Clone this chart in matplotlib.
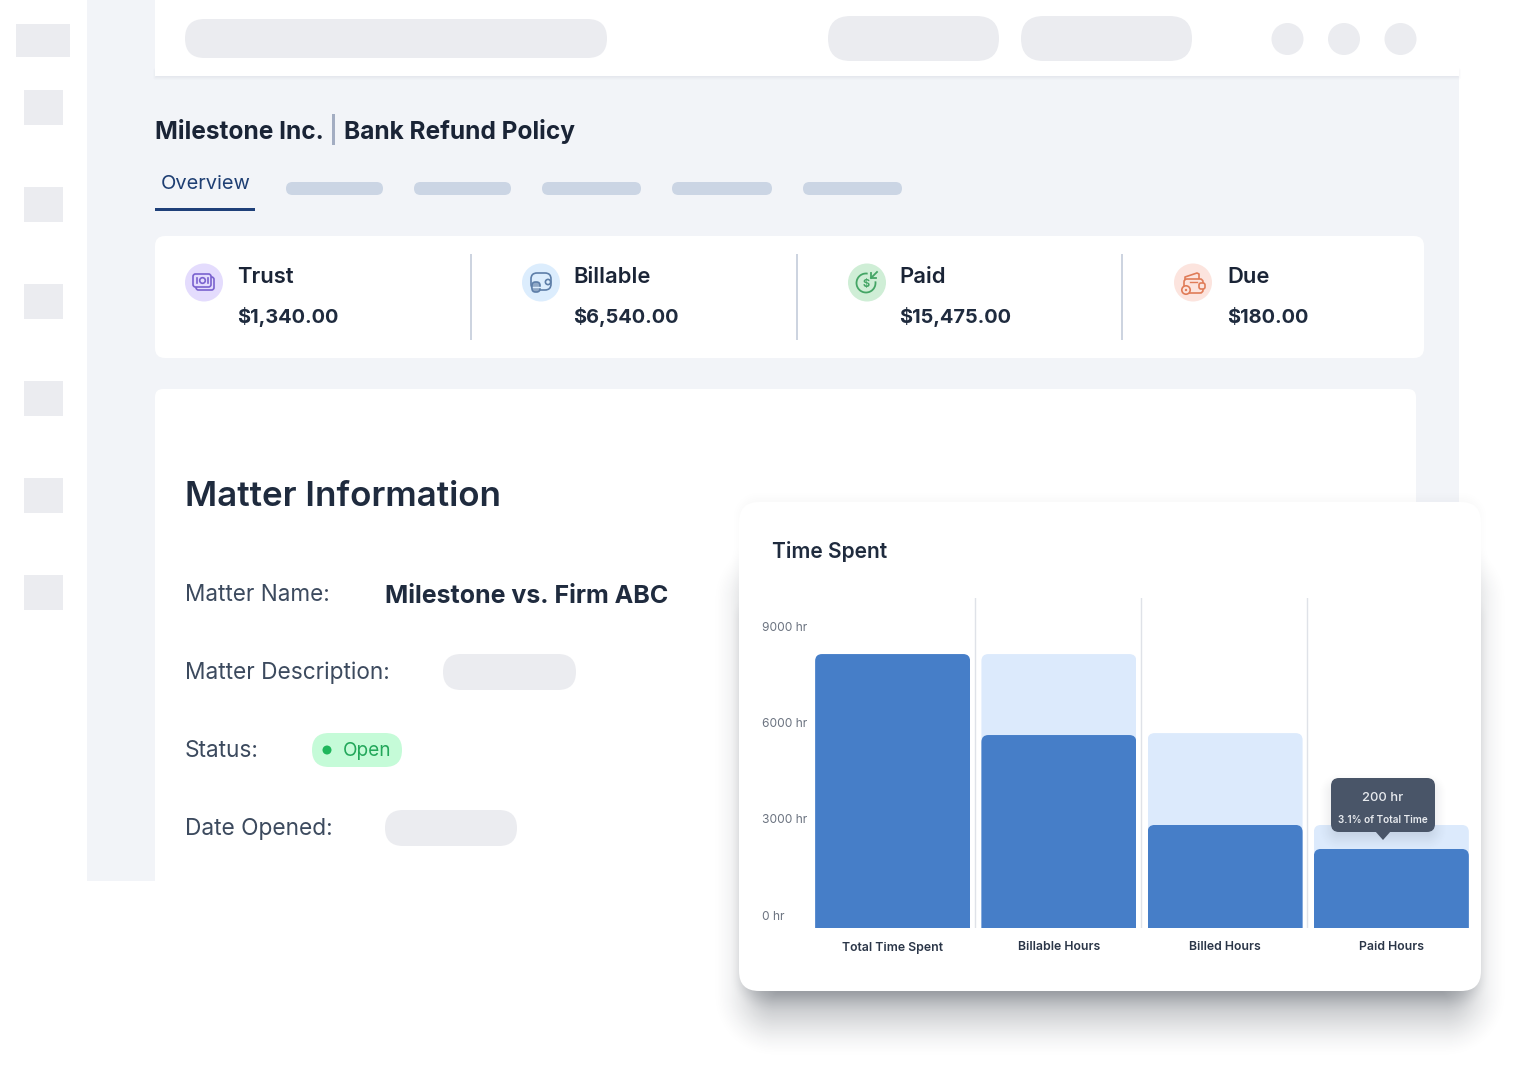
import numpy as np
import matplotlib
matplotlib.use("Agg")
import matplotlib.pyplot as plt
from matplotlib.patches import Arc, Circle, Ellipse, FancyBboxPatch, Polygon, Rectangle
from matplotlib.transforms import IdentityTransform, ScaledTranslation

plt.rcParams["font.family"] = ["Inter", "DejaVu Sans"]

WIDTH, HEIGHT = 1518, 1080
DPI = 100

# chart values
categories = ["Total Time Spent", "Billable Hours", "Billed Hours", "Paid Hours"]
upper_hours = [8560, 8560, 6090, 3220]
lower_hours = [8560, 6030, 3220, 2470]
y_ticks = [0, 3000, 6000, 9000]
y_tick_labels = ["0 hr", "3000 hr", "6000 hr", "9000 hr"]

# page text
stat_names = ["Trust", "Billable", "Paid", "Due"]
stat_values = ["$1,340.00", "$6,540.00", "$15,475.00", "$180.00"]

GREY = "#ebecf0"
PANEL = "#f2f4f8"
DARK = "#1a2436"
BODY = "#3c4a5e"
BLUE = "#467ec8"
LIGHT_BLUE = "#dceafc"


def px(size):
    return size * 72 / DPI


def box(ax, x0, y0, x1, y1, color, r=0.0, zorder=2):
    if r == 0:
        patch = Rectangle((x0, y0), x1 - x0, y1 - y0, fc=color, lw=0, zorder=zorder)
    else:
        patch = FancyBboxPatch(
            (x0, y0), x1 - x0, y1 - y0,
            boxstyle=f"round,pad=0,rounding_size={r}",
            fc=color, lw=0, zorder=zorder,
        )
    ax.add_patch(patch)
    return patch


def pill(ax, x0, y0, x1, y1, color, zorder=3):
    return box(ax, x0, y0, x1, y1, color, r=(y1 - y0) / 2, zorder=zorder)


def label(ax, x, y, text, size, color=BODY, weight="normal", ha="left", zorder=5):
    # y is the middle of the capitals, so descenders don't move the line
    ax.text(x, y + size * 0.36, text, fontsize=px(size), color=color, fontweight=weight,
            ha=ha, va="baseline", zorder=zorder)


def shadow_layer(x0, y0, x1, y1, blur, strength, radius=20):
    xx, yy = np.meshgrid(np.arange(WIDTH) + 0.5, np.arange(HEIGHT) + 0.5)
    cx, cy = (x0 + x1) / 2, (y0 + y1) / 2
    qx = np.abs(xx - cx) - (x1 - x0) / 2 + radius
    qy = np.abs(yy - cy) - (y1 - y0) / 2 + radius
    dist = np.hypot(np.maximum(qx, 0), np.maximum(qy, 0)) + np.minimum(np.maximum(qx, qy), 0) - radius
    t = np.clip((dist + blur) / (2 * blur), 0, 1)
    return strength * (1 - t * t * (3 - 2 * t))


def draw_shadow(ax, layers, color, zorder):
    alpha = np.zeros((HEIGHT, WIDTH))
    for layer in layers:
        alpha = 1 - (1 - alpha) * (1 - shadow_layer(*layer))
    rgba = np.zeros((HEIGHT, WIDTH, 4))
    rgba[..., :3] = matplotlib.colors.to_rgb(color)
    rgba[..., 3] = alpha
    ax.imshow(rgba, extent=(0, WIDTH, HEIGHT, 0), aspect="auto", zorder=zorder, interpolation="nearest")


def outline(ax, x0, y0, x1, y1, color, r=2.5, lw=1.2, fc="none", zorder=6):
    ax.add_patch(FancyBboxPatch(
        (x0, y0), x1 - x0, y1 - y0,
        boxstyle=f"round,pad=0,rounding_size={r}",
        fc=fc, ec=color, lw=lw, zorder=zorder,
    ))


def icon_trust(ax):
    c = "#7a62cf"
    outline(ax, 196, 277, 214, 290, c)
    outline(ax, 193, 274, 211, 287, c, fc="#e4dcfd", zorder=7)
    ax.add_patch(Circle((202.5, 280.5), 2.8, fc="none", ec=c, lw=1.2, zorder=8))
    ax.plot([197, 197], [278, 283], color=c, lw=1.2, zorder=8)
    ax.plot([208, 208], [278, 283], color=c, lw=1.2, zorder=8)


def icon_billable(ax):
    c = "#5d7ea8"
    outline(ax, 531, 273, 551, 290, c, r=6)
    ax.add_patch(Circle((548, 282), 2.6, fc="#dcedfd", ec=c, lw=1.2, zorder=7))
    outline(ax, 532, 282, 540, 292, c, r=3.5, fc="#8fa8c6", zorder=8)
    ax.plot([532.5, 539.5], [287, 287], color="#dcedfd", lw=1, zorder=9)


def icon_paid(ax):
    c = "#44a565"
    ax.add_patch(Arc((866, 283), 19, 19, theta1=-10, theta2=280, ec=c, lw=1.3, zorder=6))
    ax.text(866, 284, "$", fontsize=px(11), color=c, fontweight="bold", ha="center", va="center", zorder=7)
    ax.plot([877, 871], [272, 278], color=c, lw=1.3, zorder=7)
    ax.plot([871, 871, 876], [273, 278, 278], color=c, lw=1.3, zorder=7)


def icon_due(ax):
    c = "#e07c58"
    ax.plot([1185, 1185, 1197, 1199, 1199], [280, 277, 273, 274, 279], color=c, lw=1.2, zorder=6)
    outline(ax, 1184, 279, 1203, 293, c, r=3, fc="#fce4de", zorder=7)
    outline(ax, 1199, 283, 1205, 289, c, r=2, fc="#fce4de", zorder=8)
    ax.add_patch(Circle((1186, 290), 4.2, fc="#fce4de", ec=c, lw=1.2, zorder=9))
    ax.add_patch(Circle((1186, 290), 1.2, fc=c, lw=0, zorder=10))
    ax.plot([1190, 1197], [281.5, 281.5], color=c, lw=1, zorder=8)


def draw_page(ax):
    # panels
    box(ax, 87, 0, 1459, 881, PANEL, zorder=1)
    box(ax, 155, 389, 1416, 900, "white", r=8, zorder=2)
    box(ax, 0, 881, WIDTH, HEIGHT, "white", zorder=2.5)
    draw_shadow(ax, [(155, 70, 1459, 78, 3, 0.14, 1)], "#8a93a5", 2.6)
    box(ax, 155, 0, 1459, 76, "white", zorder=2.7)
    box(ax, 155, 236, 1424, 358, "white", r=10, zorder=2.7)

    # header
    pill(ax, 185, 19, 607, 58, GREY)
    pill(ax, 828, 16, 999, 61, GREY)
    pill(ax, 1021, 16, 1192, 61, GREY)
    for x in [1287.5, 1344, 1400.5]:
        ax.add_patch(Circle((x, 39), 16, fc=GREY, lw=0, zorder=3))

    # sidebar
    box(ax, 16, 24, 70, 57, GREY)
    for y in [90, 187, 284, 381, 478, 575]:
        box(ax, 24, y, 63, y + 35, GREY)

    # title and tabs
    label(ax, 155, 130, "Milestone Inc.", 24.5, DARK, "bold")
    box(ax, 331.5, 114, 335, 145, "#a3adc2", zorder=3)
    label(ax, 344, 130, "Bank Refund Policy", 24.5, DARK, "bold")
    label(ax, 161, 182, "Overview", 20, "#1f3f73")
    box(ax, 155, 208, 255, 211, "#1f4079", zorder=3)
    for x0, x1 in [(286, 383), (414, 511), (542, 641), (672, 772), (803, 902)]:
        pill(ax, x0, 182, x1, 195, "#cbd5e4")

    # stat row
    for x in [469.5, 795.5, 1120.5]:
        box(ax, x, 254, x + 2, 340, "#cdd4e0", zorder=3)
    centers = [204, 541, 867, 1193]
    fills = ["#e4dcfd", "#dcedfd", "#cfeed6", "#fce4de"]
    text_x = [237.5, 573.5, 899.5, 1227.5]
    for cx, fill, tx, name, value in zip(centers, fills, text_x, stat_names, stat_values):
        ax.add_patch(Ellipse((cx, 282.5), 38, 38, fc=fill, lw=0, zorder=3))
        label(ax, tx, 275, name, 22, DARK, "semibold")
        label(ax, tx, 316, value, 20, "#1f2b3e", "bold")
    icon_trust(ax)
    icon_billable(ax)
    icon_paid(ax)
    icon_due(ax)

    # matter information
    label(ax, 185, 493, "Matter Information", 35, "#1f2b3e", "semibold")
    label(ax, 185, 593, "Matter Name:", 22.5)
    label(ax, 385, 594, "Milestone vs. Firm ABC", 25, "#1f2b3e", "bold")
    label(ax, 185, 671, "Matter Description:", 22.7)
    pill(ax, 443, 654, 576, 690, GREY)
    label(ax, 185, 749, "Status:", 22.7)
    pill(ax, 312, 733, 402, 767, "#c5fbd8")
    ax.add_patch(Circle((327, 750), 4.5, fc="#1fb75c", lw=0, zorder=5))
    label(ax, 343, 749, "Open", 19, "#22a75a")
    label(ax, 185, 827, "Date Opened:", 22.7)
    pill(ax, 385, 810, 517, 846, GREY)

    # floating card
    draw_shadow(ax, [
        (755, 580, 1465, 1015, 45, 0.38),
        (745, 600, 1475, 998, 15, 0.20),
        (739, 498, 1481, 995, 10, 0.03),
    ], "#1c2430", 6)
    box(ax, 739, 502, 1481, 991, "white", r=20, zorder=7)
    label(ax, 772, 550, "Time Spent", 21, "#1f2b3e", "semibold", zorder=8)


def round_bar_tops(bars, radius=7):
    for bar in bars:
        ext = bar.get_window_extent()
        clip = FancyBboxPatch(
            (ext.x0, ext.y0 - 20), ext.width, ext.height + 20,
            boxstyle=f"round,pad=0,rounding_size={radius}",
            transform=IdentityTransform(),
        )
        bar.set_clip_path(clip)


def draw_chart(fig):
    left, right, top, bottom = 809.5, 1474.5, 598, 928
    ax = fig.add_axes([left / WIDTH, 1 - bottom / HEIGHT, (right - left) / WIDTH, (bottom - top) / HEIGHT])
    ax.patch.set_alpha(0)
    ax.set_zorder(2)
    positions = np.arange(len(categories))
    ax.set_xlim(-0.5, 3.5)
    ax.set_ylim(0, 10312)
    for x in [0.495, 1.495, 2.495]:
        ax.axvline(x, color="#dfe2e8", lw=1, zorder=1)
    upper = ax.bar(positions, upper_hours, width=0.932, color=LIGHT_BLUE, zorder=2)
    lower = ax.bar(positions, lower_hours, width=0.932, color=BLUE, zorder=3)
    round_bar_tops(upper)
    round_bar_tops(lower)

    for spine in ax.spines.values():
        spine.set_visible(False)
    ax.set_xticks(positions)
    ax.set_xticklabels(categories, fontsize=px(12.3), color="#2b3648", fontweight="semibold")
    ax.tick_params(axis="x", length=0, pad=px(13.5))
    ax.set_yticks(y_ticks)
    ax.set_yticklabels(y_tick_labels, fontsize=px(12), color="#6b7380")
    ax.tick_params(axis="y", length=0, pad=px(47.5))
    shift = ScaledTranslation(0, 13 / DPI, fig.dpi_scale_trans)
    for tick in ax.get_yticklabels():
        tick.set_ha("left")
        tick.set_transform(tick.get_transform() + shift)


def draw_tooltip(fig):
    ax = fig.add_axes([0, 0, 1, 1])
    ax.set_xlim(0, WIDTH)
    ax.set_ylim(HEIGHT, 0)
    ax.axis("off")
    ax.set_zorder(3)
    draw_shadow(ax, [(1331, 785, 1435, 838, 14, 0.14, 8)], "#1c2430", 1)
    ax.set_xlim(0, WIDTH)
    ax.set_ylim(HEIGHT, 0)
    color = "#495568"
    box(ax, 1331, 778, 1435, 832, color, r=8, zorder=2)
    ax.add_patch(Polygon([(1375, 831), (1391, 831), (1383, 840)], fc=color, lw=0, zorder=2))
    label(ax, 1383, 796, "200 hr", 13, "#e8ebef", "medium", ha="center", zorder=3)
    label(ax, 1383, 819, "3.1% of Total Time", 10, "#e8ebef", "semibold", ha="center", zorder=3)


def main():
    fig = plt.figure(figsize=(WIDTH / DPI, HEIGHT / DPI), dpi=DPI, facecolor="white")
    page = fig.add_axes([0, 0, 1, 1])
    page.set_xlim(0, WIDTH)
    page.set_ylim(HEIGHT, 0)
    page.axis("off")
    page.set_zorder(1)
    draw_page(page)
    page.set_xlim(0, WIDTH)
    page.set_ylim(HEIGHT, 0)
    draw_chart(fig)
    draw_tooltip(fig)
    fig.savefig("out.png", dpi=DPI)


if __name__ == "__main__":
    main()
